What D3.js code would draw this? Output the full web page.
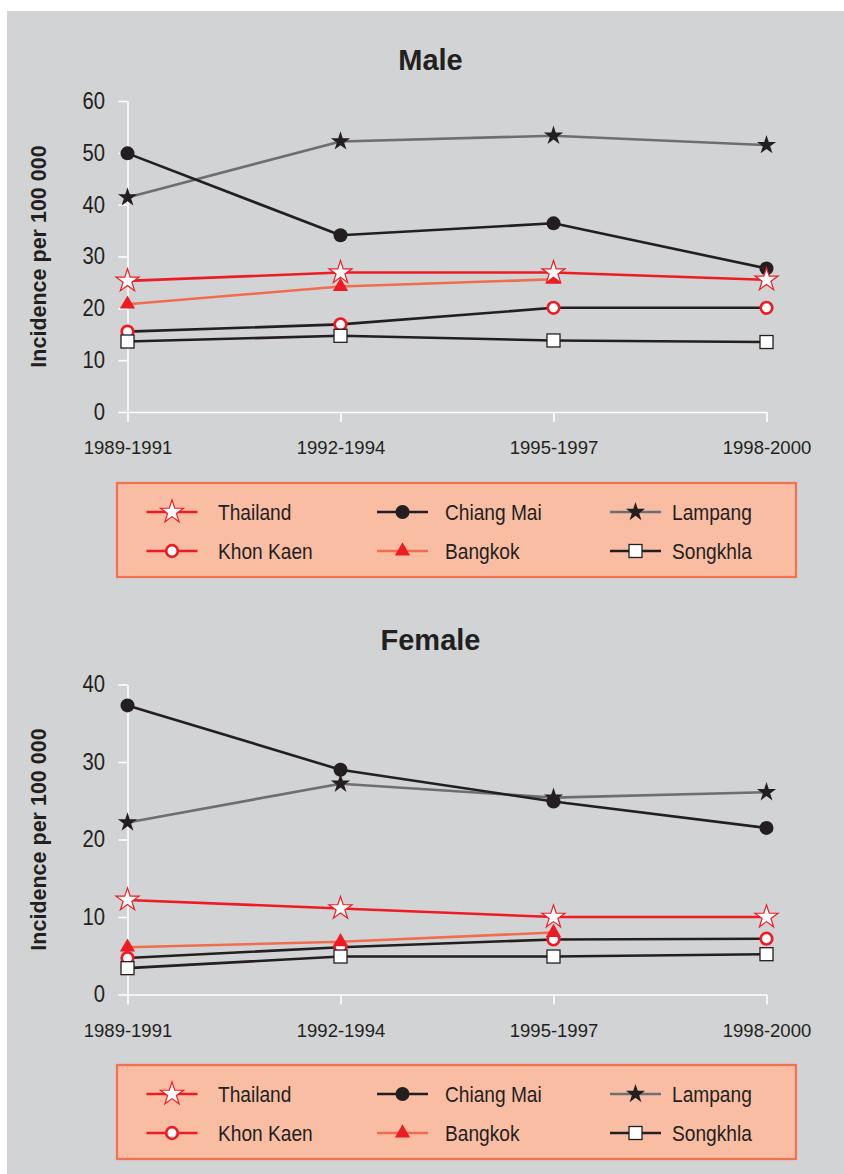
<!DOCTYPE html>
<html><head><meta charset="utf-8">
<script src="https://cdn.jsdelivr.net/npm/d3@7/dist/d3.min.js"></script>
<style>
html,body{margin:0;padding:0;background:#fff;}
svg{display:block;font-family:"Liberation Sans",Arial,Helvetica,sans-serif;}
</style></head>
<body>
<svg id="chart" width="844" height="1174"></svg>
<script>
// ---------- data ----------
const periods = ["1989-1991","1992-1994","1995-1997","1998-2000"];
const seriesNames = ["Thailand","Chiang Mai","Lampang","Khon Kaen","Bangkok","Songkhla"];

// Male incidence per 100 000
const thailandM  = [25.3, 26.9, 26.9, 25.5];
const chiangMaiM = [49.9, 34.1, 36.4, 27.7];
const lampangM   = [41.4, 52.2, 53.3, 51.5];
const khonKaenM  = [15.5, 16.9, 20.1, 20.1];
const bangkokM   = [20.8, 24.2, 25.6, null];
const songkhlaM  = [13.6, 14.7, 13.8, 13.5];

// Female incidence per 100 000
const thailandF  = [12.2, 11.1, 10.0, 10.0];
const chiangMaiF = [37.3, 29.0, 24.9, 21.5];
const lampangF   = [22.2, 27.2, 25.4, 26.1];
const khonKaenF  = [4.7, 6.1, 7.1, 7.2];
const bangkokF   = [6.1, 6.8, 8.0, null];
const songkhlaF  = [3.4, 4.9, 4.9, 5.2];

const maleTicks = [0,10,20,30,40,50,60];
const femaleTicks = [0,10,20,30,40];

// ---------- styles ----------
const RED = "#ed1c24", BLACK = "#231f20", GREY = "#6d6e71", SALMON = "#f26c4f";
const styles = {
  "Thailand":   {line: RED,    legendLine: RED,    marker: "star",   fill: "#fff", stroke: RED,   size: 165, sw: 1.2},
  "Chiang Mai": {line: BLACK,  legendLine: BLACK,  marker: "circle", fill: BLACK,  stroke: BLACK, r: 7, sw: 0},
  "Lampang":    {line: GREY,   legendLine: GREY,   marker: "star",   fill: BLACK,  stroke: BLACK, size: 115, sw: 0},
  "Khon Kaen":  {line: BLACK,  legendLine: RED,    marker: "circle", fill: "#fff", stroke: RED,   r: 5.8, sw: 2.7},
  "Bangkok":    {line: SALMON, legendLine: SALMON, marker: "triangle", fill: RED,  stroke: RED,   size: 100, sw: 0},
  "Songkhla":   {line: BLACK,  legendLine: BLACK,  marker: "square", fill: "#fff", stroke: BLACK, side: 13, sw: 1.3}
};
const drawOrder = ["Lampang","Chiang Mai","Khon Kaen","Songkhla","Bangkok","Thailand"];

const svg = d3.select("#chart");
svg.append("rect").attr("x",0).attr("y",0).attr("width",844).attr("height",1174).attr("fill","#fff");
svg.append("rect").attr("x",7).attr("y",11).attr("width",837).attr("height",1163).attr("fill","#d1d3d4");

function drawMarker(g, name, cx, cy) {
  const s = styles[name];
  if (s.marker === "circle") {
    g.append("circle").attr("cx",cx).attr("cy",cy).attr("r",s.r)
      .attr("fill",s.fill).attr("stroke",s.stroke).attr("stroke-width",s.sw);
  } else if (s.marker === "square") {
    g.append("rect").attr("x",cx - s.side/2).attr("y",cy - s.side/2)
      .attr("width",s.side).attr("height",s.side)
      .attr("fill",s.fill).attr("stroke",s.stroke).attr("stroke-width",s.sw);
  } else {
    const type = s.marker === "star" ? d3.symbolStar : d3.symbolTriangle;
    g.append("path").attr("transform",`translate(${cx},${cy})`)
      .attr("d", d3.symbol().type(type).size(s.size)())
      .attr("fill",s.fill).attr("stroke",s.stroke).attr("stroke-width",s.sw)
      .attr("stroke-linejoin","miter");
  }
}

function drawPanel(opts) {
  const g = svg.append("g");
  const x = d3.scalePoint().domain(periods).range([127.5, 766.5]);
  const y = d3.scaleLinear().domain([0, opts.max]).range([opts.y0, opts.yTop]);

  // title
  g.append("text").attr("x",430.5).attr("y",opts.titleY).attr("text-anchor","middle")
    .attr("font-size",29).attr("font-weight","bold").attr("fill",BLACK).text(opts.title);

  // y label
  g.append("text")
    .attr("transform",`translate(46,${(opts.y0+opts.yTop)/2}) rotate(-90)`)
    .attr("text-anchor","middle").attr("font-size",21.5).attr("font-weight","bold")
    .attr("fill",BLACK).text("Incidence per 100 000");

  // y axis
  const ya = g.append("g").attr("transform","translate(127.5,0)")
    .call(d3.axisLeft(y).tickValues(opts.ticks).tickSize(9).tickSizeOuter(0).tickFormat(d3.format("d")));
  ya.select(".domain").attr("stroke","#fff").attr("stroke-width",1.6);
  ya.selectAll(".tick line").attr("stroke","#fff").attr("stroke-width",1.6);
  ya.selectAll(".tick text").attr("x",-25.6).attr("font-size",23).attr("fill",BLACK)
    .attr("font-family","'Liberation Sans',Arial,sans-serif")
    .attr("transform","scale(0.88,1)");

  // x axis
  const xa = g.append("g").attr("transform",`translate(0,${opts.y0})`)
    .call(d3.axisBottom(x).tickSize(10).tickSizeOuter(0).tickPadding(19));
  xa.select(".domain").attr("stroke","#fff").attr("stroke-width",1.6);
  xa.selectAll(".tick line").attr("stroke","#fff").attr("stroke-width",1.6);
  xa.selectAll(".tick text").attr("font-size",18.5).attr("fill",BLACK)
    .attr("font-family","'Liberation Sans',Arial,sans-serif");

  // series
  const line = d3.line().defined(d => d != null)
    .x((d,i) => x(periods[i])).y(d => y(d));
  drawOrder.forEach(name => {
    const vals = opts.data[name];
    const s = styles[name];
    g.append("path").attr("d", line(vals)).attr("fill","none")
      .attr("stroke", s.line).attr("stroke-width", 2.6).attr("stroke-linejoin","round");
  });
  drawOrder.forEach(name => {
    const vals = opts.data[name];
    vals.forEach((v,i) => { if (v != null) drawMarker(g, name, x(periods[i]), y(v)); });
  });

  // legend
  const lg = g.append("g");
  lg.append("rect").attr("x",117).attr("y",opts.legendY).attr("width",679).attr("height",94)
    .attr("fill","#f9bda4").attr("stroke","#f47150").attr("stroke-width",2.2);
  const colX = [146.5, 377, 610];
  const textX = [218, 445, 672];
  const rowY = [opts.legendY + 29, opts.legendY + 68];
  seriesNames.forEach((name, k) => {
    const c = k % 3, r = Math.floor(k / 3);
    const s = styles[name];
    const yy = rowY[r];
    lg.append("line").attr("x1",colX[c]).attr("x2",colX[c]+51).attr("y1",yy).attr("y2",yy)
      .attr("stroke", s.legendLine).attr("stroke-width", 2.6);
    drawMarker(lg, name, colX[c]+25.5, yy);
    lg.append("text").attr("transform",`translate(${textX[c]},${yy+7.5}) scale(0.87,1)`)
      .attr("font-size",22).attr("fill",BLACK).text(name);
  });
}

drawPanel({
  title: "Male", titleY: 69.5, max: 60, y0: 412, yTop: 101, ticks: maleTicks, legendY: 483,
  data: {"Thailand": thailandM, "Chiang Mai": chiangMaiM, "Lampang": lampangM,
         "Khon Kaen": khonKaenM, "Bangkok": bangkokM, "Songkhla": songkhlaM}
});
drawPanel({
  title: "Female", titleY: 649.5, max: 40, y0: 994.5, yTop: 684.5, ticks: femaleTicks, legendY: 1065,
  data: {"Thailand": thailandF, "Chiang Mai": chiangMaiF, "Lampang": lampangF,
         "Khon Kaen": khonKaenF, "Bangkok": bangkokF, "Songkhla": songkhlaF}
});
</script>
</body></html>
